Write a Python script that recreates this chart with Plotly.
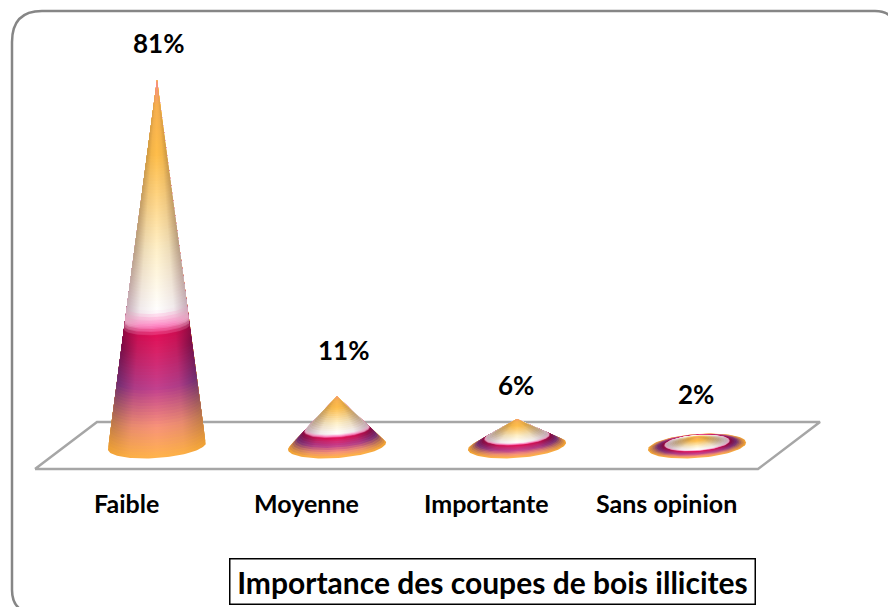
import numpy as np
import plotly.graph_objects as go

W, H = 888, 607
categories = ["Faible", "Moyenne", "Importante", "Sans opinion"]
values = [81, 11, 6, 2]
value_labels = ["81%", "11%", "6%", "2%"]
title_text = "Importance des coupes de bois illicites"

FONT = "Lato"
X0, XSTEP = 157, 180       # pixel of first category, pixels per category
Y0, YSCALE = 446, 4.52     # pixel of value 0, pixels per value unit
RX = 49 / XSTEP            # cone base radii in axis units
RY = 12 / YSCALE
TILT = 0.07 * XSTEP / YSCALE  # rise of the base ellipse towards the right

# (height fraction, centre colour, edge colour)
shade = [
    (0.00, "#FFB24E", "#EFA033"),
    (0.08, "#F8927A", "#B8744C"),
    (0.18, "#C2408E", "#6E2C70"),
    (0.28, "#DA2066", "#7C0C44"),
    (0.32, "#E01058", "#920A42"),
    (0.347, "#FF86C4", "#E6A6C2"),
    (0.385, "#FFFFFF", "#C6AEB8"),
    (0.55, "#FFF0C8", "#B89E80"),
    (0.80, "#FFBE4A", "#CF9A42"),
    (0.93, "#F8B050", "#E0A048"),
    (1.00, "#F88098", "#F88098"),
]


def rgb(h):
    return np.array([int(h[i:i + 2], 16) for i in (1, 3, 5)], float)


def colour_at(t):
    ts = [s[0] for s in shade]
    c, e = [], []
    for k in range(3):
        c.append(np.interp(t, ts, [rgb(s[1])[k] for s in shade]))
        e.append(np.interp(t, ts, [rgb(s[2])[k] for s in shade]))
    return np.array(c), np.array(e)


def css(a):
    return "rgb(%d,%d,%d)" % tuple(np.round(a))


def silhouette(cx, base, height, rx, ry):
    """Outline of a cone of given height standing on a tilted ellipse."""
    if height > ry * 1.02:
        lift = ry * ry / height
        start = np.arcsin(lift / ry)
        ang = np.linspace(-start, np.pi + start, 70)
        xs = cx + rx * np.cos(ang)
        ys = base - ry * np.sin(ang)
        ys = ys + TILT * (xs - cx)
        xs = np.r_[cx, xs, cx]
        ys = np.r_[base + height, ys, base + height]
    else:
        ang = np.linspace(0, 2 * np.pi, 90)
        xs = cx + rx * np.cos(ang)
        ys = base + ry * np.sin(ang) + TILT * rx * np.cos(ang)
    return xs, ys


fig = go.Figure()

# floor of the 3D chart
floor_x = (np.array([35, 97, 820, 758, 35]) - X0) / XSTEP
floor_y = (Y0 - np.array([469, 422, 422, 469, 469])) / YSCALE
fig.add_trace(go.Scatter(x=floor_x, y=floor_y, mode="lines",
                         line=dict(color="#A6A6A6", width=2.5),
                         hoverinfo="skip", showlegend=False))

for i, v in enumerate(values):
    n = max(30, int(v * YSCALE / 3))
    levels = np.unique(np.r_[np.linspace(0, 0.985, n), np.linspace(0.30, 0.40, 12)])
    for t in levels:
        c, e = colour_at(t)
        mid = e * 0.25 + c * 0.75
        xs, ys = silhouette(i, v * t, v * (1 - t), RX * (1 - t), RY * (1 - t))
        fig.add_trace(go.Scatter(
            x=xs, y=ys, mode="lines", fill="toself",
            line=dict(width=0),
            fillgradient=dict(type="horizontal", colorscale=[
                [0, css(e)], [0.22, css(mid)], [0.5, css(c)],
                [0.78, css(mid)], [1, css(e)]]),
            hoverinfo="skip", showlegend=False))

annotations = []
label_dx = [1, 6, -1, -1]
label_y = [43, 350, 385, 394]
for i, (lab, cat) in enumerate(zip(value_labels, categories)):
    annotations.append(dict(x=i + label_dx[i] / XSTEP, y=(Y0 - label_y[i]) / YSCALE,
                            text="<b>%s</b>" % lab, showarrow=False,
                            font=dict(family=FONT, size=26, color="black")))
    annotations.append(dict(x=i - 31 / XSTEP, y=(Y0 - 503) / YSCALE,
                            text="<b>%s</b>" % cat, showarrow=False,
                            font=dict(family=FONT, size=25, color="black")))
annotations.append(dict(x=492 / W, y=1 - 581 / H, xref="paper", yref="paper",
                        xanchor="center", yanchor="middle",
                        text="<b>%s</b>" % title_text, showarrow=False,
                        width=524, height=44, bgcolor="white",
                        bordercolor="black", borderwidth=1.5, borderpad=0,
                        font=dict(family=FONT, size=30, color="black")))

px = lambda a: a / W
py = lambda a: 1 - a / H
frame = "M %f %f Q %f %f %f %f L %f %f Q %f %f %f %f L %f %f Q %f %f %f %f" % (
    px(20), py(609), px(12), py(603), px(12), py(590),
    px(12), py(42), px(12), py(11), px(42), py(11),
    px(875), py(11), px(885), py(11), px(890), py(16))

fig.update_layout(
    width=W, height=H, margin=dict(l=0, r=0, t=0, b=0),
    paper_bgcolor="white", plot_bgcolor="white", showlegend=False,
    xaxis=dict(range=[-X0 / XSTEP, (W - X0) / XSTEP], visible=False, fixedrange=True),
    yaxis=dict(range=[(Y0 - H) / YSCALE, Y0 / YSCALE], visible=False, fixedrange=True),
    annotations=annotations,
    shapes=[dict(type="path", xref="paper", yref="paper", path=frame,
                 line=dict(color="#868686", width=2.5), layer="below")],
)
fig.write_html("out.html", config=dict(displayModeBar=False),
               post_script="document.body.style.margin='0';document.documentElement.style.overflow='hidden';")
